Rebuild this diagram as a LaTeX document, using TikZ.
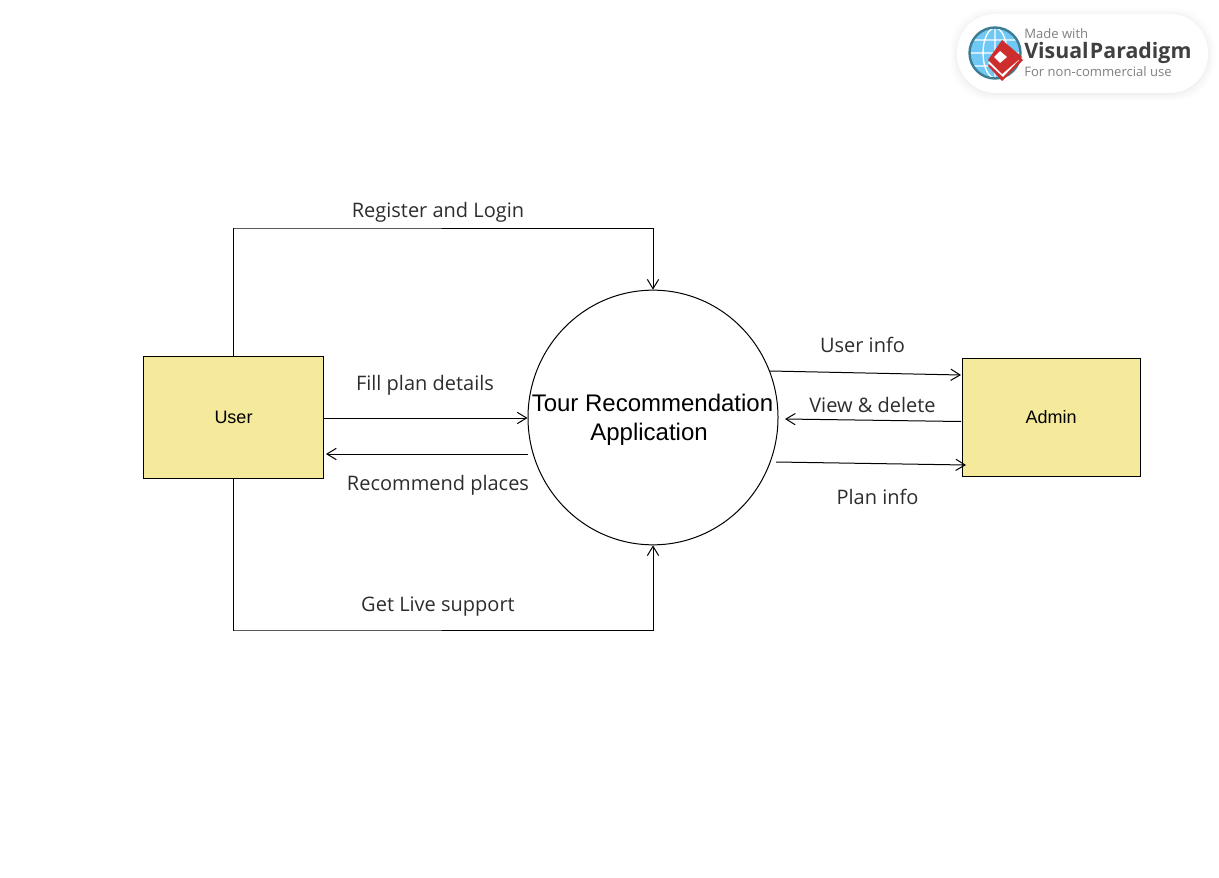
\documentclass[tikz,border=0pt]{standalone}
\usepackage{fontspec}
\setmainfont{Open Sans}
\newfontfamily\nodefont{Liberation Sans}
\usetikzlibrary{arrows.meta,shapes.geometric}
\definecolor{boxfill}{RGB}{245,233,155}
\definecolor{labelgray}{RGB}{45,45,45}
\definecolor{globeblue}{RGB}{112,200,245}
\definecolor{globering}{RGB}{60,125,145}
\definecolor{badgered}{RGB}{205,45,45}
\tikzset{
  entity/.style={draw,fill=boxfill,line width=0.75pt,inner sep=0pt,font=\nodefont\fontsize{13.5}{16}\selectfont},
  process/.style={draw,ellipse,fill=white,line width=0.75pt,inner sep=0pt},
  proctext/.style={inner sep=0pt,align=center,font=\nodefont\fontsize{18}{22}\selectfont},
  flow/.style={draw,line width=0.75pt,-{Straight Barb[length=7pt,width=8.5pt]}},
  flowlabel/.style={inner sep=0.75pt,text=labelgray,font=\fontsize{15}{18}\selectfont},
}
\begin{document}
\begin{tikzpicture}[x=0.75pt,y=0.75pt,yscale=-1,xscale=1]
\useasboundingbox (0,0) rectangle (1219,877);

%Shape: Rectangle
\node [entity,minimum width=135pt,minimum height=91.5pt] (user) at (233.5,417) {User};
%Shape: Rectangle
\node [entity,minimum width=133.5pt,minimum height=88.5pt] (admin) at (1051,417) {Admin};
%Shape: Circle
\node [process,minimum width=187.5pt,minimum height=191pt] (app) at (653,417.5) {};

%Free ends
\coordinate (recA) at (528,454);
\coordinate (recB) at (326,454);
\coordinate (uinfoA) at (770,371);
\coordinate (uinfoB) at (961,375);
\coordinate (viewA) at (961,421.5);
\coordinate (viewB) at (785,419);
\coordinate (planA) at (776,462);
\coordinate (planB) at (966,465);
\coordinate (regTurn) at (234,228);
\coordinate (liveTurn) at (234,630);

%Straight Lines
\draw [flow] (user.north) |- (regTurn) -| (app.north);
\draw [flow] (user.south) |- (liveTurn) -| (app.south);
\draw [flow] (user.east |- 0,418) -- (app.west |- 0,418);
\draw [flow] (recA) -- (recB);
\draw [flow] (uinfoA) -- (uinfoB);
\draw [flow] (viewA) -- (viewB);
\draw [flow] (planA) -- (planB);

% Text Node
\node [proctext] (appText1) at (652.5,403) {Tour Recommendation};
\node [proctext] (appText2) at (649,434) {Application};
\node [flowlabel] (regText) at (438,212) {Register and Login};
\node [flowlabel] (fillText) at (425,385) {Fill plan details};
\node [flowlabel] (recText) at (438,485) {Recommend places};
\node [flowlabel] (liveText) at (438,607) {Get Live support};
\node [flowlabel] (uinfoText) at (862.5,345) {User info};
\node [flowlabel] (viewText) at (872.5,405) {View \& delete};
\node [flowlabel] (planText) at (877.5,497) {Plan info};

%Badge
\foreach \g/\o in {7/0.008,5/0.012,3/0.016,1/0.02}
  \fill [black,opacity=\o,rounded corners=30pt] (957-\g,14-\g+1) rectangle (1208+\g,93+\g+1);
\fill [white,rounded corners=29pt] (957,14) rectangle (1208,93);
%Globe
\fill [globeblue] (995,53) circle [radius=25];
\draw [white,line width=1pt] (970,53) -- (1020,53) (995,28) -- (995,78)
  (973,40) -- (1017,40) (973,66) -- (1017,66)
  (995,53) ellipse [x radius=12,y radius=25];
\draw [globering,line width=1.8pt] (995,53) circle [radius=25.5];
%Diamond
\fill [badgered] (1002,41) -- (1023,60) -- (1002,81) -- (988,66) -- cycle;
\fill [white] (988,63) -- (1004,47) -- (1019,60) -- (1003,77) -- cycle;
\fill [badgered] (1002,40) -- (1022,57) -- (1002,74) -- (988,60) -- cycle;
\fill [white] (1000,51) -- (1007,57) -- (1000,63) -- (994,57) -- cycle;
%Badge text
\node [anchor=west,inner sep=0pt,text=black!50,font=\fontsize{9.8}{12}\selectfont] (madeText) at (1024,34) {Made with};
\node [anchor=west,inner sep=0pt,text=black!75,font=\fontsize{16}{18}\selectfont\bfseries] (vpText) at (1024,53) {Visual\kern1pt Paradigm};
\node [anchor=west,inner sep=0pt,text=black!50,font=\fontsize{9.8}{12}\selectfont] (useText) at (1024,71.5) {For non-commercial use};
\end{tikzpicture}
\end{document}
